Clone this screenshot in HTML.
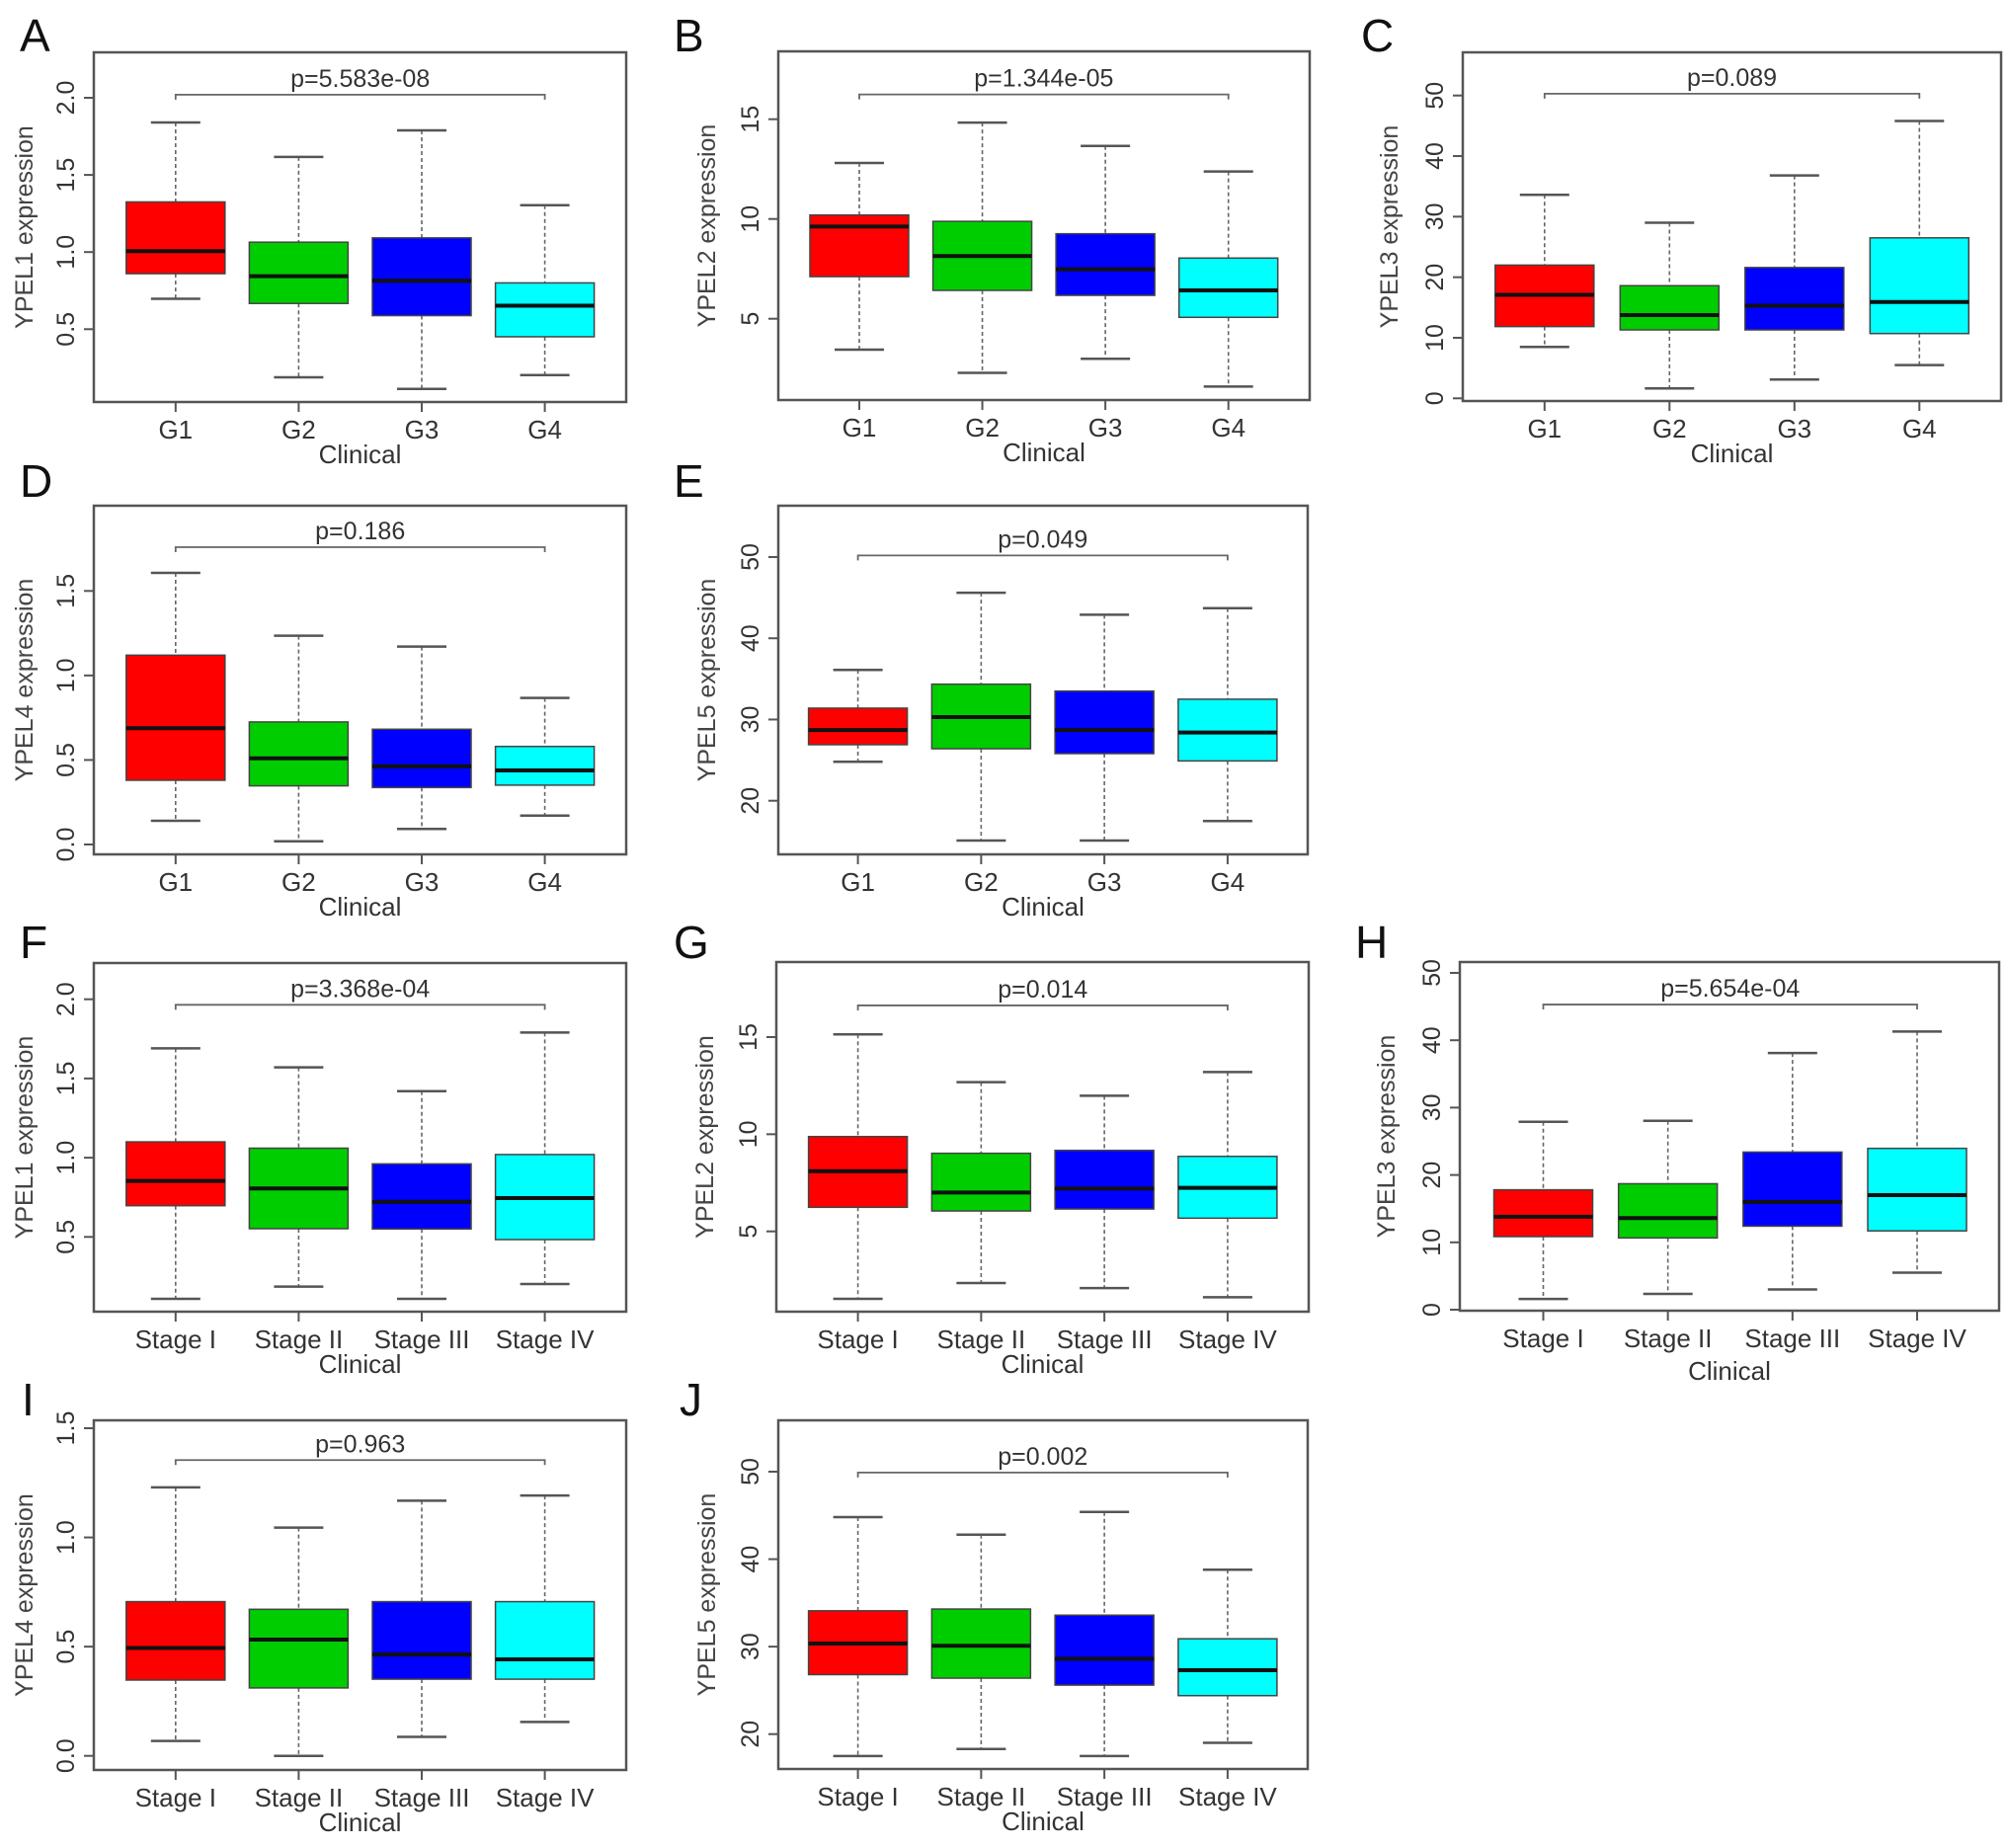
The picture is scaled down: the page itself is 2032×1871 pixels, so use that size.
<!DOCTYPE html>
<html><head><meta charset="utf-8"><style>
html,body{margin:0;padding:0;background:#fff;}
svg{display:block;font-family:"Liberation Sans",Arial,sans-serif;}
</style></head><body>
<svg id="fig" width="2032" height="1871" viewBox="0 0 2032 1871" xmlns="http://www.w3.org/2000/svg"></svg>
<script>
const catsGrade = ['G1','G2','G3','G4'];
const catsStage = ['Stage I','Stage II','Stage III','Stage IV'];
const boxColors = ['#ff0000','#00cd00','#0000ff','#00ffff'];

// Panel A YPEL1 by grade
const aHi=[1.84,1.617,1.789,1.304], aQ3=[1.325,1.064,1.092,0.80], aMed=[1.006,0.844,0.814,0.652], aQ1=[0.86,0.667,0.588,0.451], aLo=[0.697,0.188,0.113,0.203];
const aTicks=[0.5,1.0,1.5,2.0];
// Panel B YPEL2 by grade
const bHi=[12.81,14.83,13.66,12.38], bQ3=[10.2,9.88,9.26,8.04], bMed=[9.62,8.14,7.48,6.42], bQ1=[7.11,6.42,6.17,5.07], bLo=[3.45,2.29,2.99,1.60];
const bTicks=[5,10,15];
// Panel C YPEL3 by grade
const cHi=[33.6,29.0,36.8,45.8], cQ3=[22.0,18.6,21.6,26.5], cMed=[17.1,13.75,15.3,15.9], cQ1=[11.85,11.3,11.3,10.7], cLo=[8.48,1.63,3.1,5.5];
const cTicks=[0,10,20,30,40,50];
// Panel D YPEL4 by grade
const dHi=[1.607,1.235,1.171,0.867], dQ3=[1.12,0.725,0.682,0.58], dMed=[0.688,0.51,0.462,0.438], dQ1=[0.38,0.347,0.337,0.351], dLo=[0.14,0.019,0.092,0.171];
const dTicks=[0.0,0.5,1.0,1.5];
// Panel E YPEL5 by grade
const eHi=[36.1,45.6,42.9,43.7], eQ3=[31.4,34.35,33.5,32.5], eMed=[28.7,30.3,28.7,28.4], eQ1=[26.9,26.4,25.8,24.9], eLo=[24.8,15.1,15.1,17.5];
const eTicks=[20,30,40,50];
// Panel F YPEL1 by stage
const fHi=[1.69,1.57,1.42,1.79], fQ3=[1.10,1.06,0.961,1.02], fMed=[0.853,0.806,0.722,0.745], fQ1=[0.697,0.552,0.55,0.483], fLo=[0.109,0.186,0.109,0.203];
const fTicks=[0.5,1.0,1.5,2.0];
// Panel G YPEL2 by stage
const gHi=[15.14,12.68,11.98,13.2], gQ3=[9.88,9.02,9.17,8.86], gMed=[8.1,7.0,7.2,7.24], gQ1=[6.24,6.05,6.15,5.68], gLo=[1.53,2.34,2.08,1.61];
const gTicks=[5,10,15];
// Panel H YPEL3 by stage
const hHi=[27.9,28.05,38.1,41.3], hQ3=[17.8,18.7,23.4,23.95], hMed=[13.8,13.6,16.0,17.0], hQ1=[10.85,10.65,12.4,11.7], hLo=[1.6,2.35,3.0,5.5];
const hTicks=[0,10,20,30,40,50];
// Panel I YPEL4 by stage
const iHi=[1.229,1.045,1.168,1.192], iQ3=[0.706,0.671,0.706,0.706], iMed=[0.494,0.532,0.464,0.442], iQ1=[0.347,0.311,0.351,0.351], iLo=[0.068,0.0,0.087,0.155];
const iTicks=[0.0,0.5,1.0,1.5];
// Panel J YPEL5 by stage
const jHi=[44.8,42.8,45.4,38.8], jQ3=[34.1,34.3,33.6,30.9], jMed=[30.35,30.1,28.6,27.3], jQ1=[26.8,26.4,25.6,24.4], jLo=[17.5,18.3,17.5,19.0];
const jTicks=[20,30,40,50];

const pLabels=['p=5.583e-08','p=1.344e-05','p=0.089','p=0.186','p=0.049','p=3.368e-04','p=0.014','p=5.654e-04','p=0.963','p=0.002'];
const bracketVals=[2.02,16.24,50.3,1.759,50.2,1.965,16.63,45.3,1.354,49.9];

const NS='http://www.w3.org/2000/svg';
const svg=document.getElementById('fig');
function mk(tag,attrs,parent,text){const e=document.createElementNS(NS,tag);for(const k in attrs)e.setAttribute(k,attrs[k]);if(text!==undefined)e.textContent=text;(parent||svg).appendChild(e);return e;}

const panels=[
 {id:'a',L:'A',lx:20,ly:52,gene:'YPEL1',cats:catsGrade,hi:aHi,q3:aQ3,med:aMed,q1:aQ1,lo:aLo,ticks:aTicks,fmt:1,box:[95,53,634,407],v1:2.0,py1:99,v2:0.5,py2:333.3,x0:177.8,x3:551.6,tOff:62},
 {id:'b',L:'B',lx:682,ly:52,gene:'YPEL2',cats:catsGrade,hi:bHi,q3:bQ3,med:bMed,q1:bQ1,lo:bLo,ticks:bTicks,fmt:0,box:[788,52,1326,405],v1:15,py1:120.7,v2:5,py2:322.7,x0:870,x3:1243.7,tOff:64},
 {id:'c',L:'C',lx:1378,ly:52,gene:'YPEL3',cats:catsGrade,hi:cHi,q3:cQ3,med:cMed,q1:cQ1,lo:cLo,ticks:cTicks,fmt:0,box:[1481,53,2026,406],v1:50,py1:96.7,v2:0,py2:403.3,x0:1563.8,x3:1943.3,tOff:66},
 {id:'d',L:'D',lx:20,ly:503,gene:'YPEL4',cats:catsGrade,hi:dHi,q3:dQ3,med:dMed,q1:dQ1,lo:dLo,ticks:dTicks,fmt:1,box:[95,512,634,865],v1:1.5,py1:598.3,v2:0,py2:855,x0:177.8,x3:551.6,tOff:62},
 {id:'e',L:'E',lx:682,ly:503,gene:'YPEL5',cats:catsGrade,hi:eHi,q3:eQ3,med:eMed,q1:eQ1,lo:eLo,ticks:eTicks,fmt:0,box:[788,512,1324,865],v1:50,py1:564,v2:20,py2:810.7,x0:868.6,x3:1242.9,tOff:64},
 {id:'f',L:'F',lx:20,ly:970,gene:'YPEL1',cats:catsStage,hi:fHi,q3:fQ3,med:fMed,q1:fQ1,lo:fLo,ticks:fTicks,fmt:1,box:[95,975,634,1328],v1:2.0,py1:1011.7,v2:0.5,py2:1252.3,x0:177.8,x3:551.6,tOff:62},
 {id:'g',L:'G',lx:682,ly:970,gene:'YPEL2',cats:catsStage,hi:gHi,q3:gQ3,med:gMed,q1:gQ1,lo:gLo,ticks:gTicks,fmt:0,box:[786,974,1325,1328],v1:15,py1:1050,v2:5,py2:1246.7,x0:868.6,x3:1242.9,tOff:64},
 {id:'h',L:'H',lx:1372,ly:970,gene:'YPEL3',cats:catsStage,hi:hHi,q3:hQ3,med:hMed,q1:hQ1,lo:hLo,ticks:hTicks,fmt:0,box:[1478,974,2024,1327],v1:50,py1:985,v2:0,py2:1326,x0:1562.5,x3:1941,tOff:66,cOff:70},
 {id:'i',L:'I',lx:22,ly:1433,gene:'YPEL4',cats:catsStage,hi:iHi,q3:iQ3,med:iMed,q1:iQ1,lo:iLo,ticks:iTicks,fmt:1,box:[95,1438,634,1792],v1:1.5,py1:1446,v2:0,py2:1777.7,x0:177.8,x3:551.6,tOff:62},
 {id:'j',L:'J',lx:688,ly:1433,gene:'YPEL5',cats:catsStage,hi:jHi,q3:jQ3,med:jMed,q1:jQ1,lo:jLo,ticks:jTicks,fmt:0,box:[788,1438,1324,1791],v1:50,py1:1490,v2:20,py2:1755.7,x0:868.6,x3:1242.9,tOff:64}
];

panels.forEach((p,pi)=>{
 const g=mk('g',{});
 
 
 const y=v=>p.py1+(v-p.v1)*(p.py2-p.py1)/(p.v2-p.v1);
 const x=i=>p.x0+i*(p.x3-p.x0)/3;
 const [L,T,R,B]=p.box;
 const letter=mk('text',{x:p.lx,y:p.ly,'font-size':46,fill:'#111'},g,p.L);
 
 
 for(let i=0;i<4;i++){
  const cx=x(i);
  const bg=mk('g',{},g);
  
  
  mk('line',{x1:cx,x2:cx,y1:y(p.hi[i]),y2:y(p.q3[i]),stroke:'#666','stroke-width':1.6,'stroke-dasharray':'4 3'},bg);
  mk('line',{x1:cx,x2:cx,y1:y(p.q1[i]),y2:y(p.lo[i]),stroke:'#666','stroke-width':1.6,'stroke-dasharray':'4 3'},bg);
  mk('line',{x1:cx-25,x2:cx+25,y1:y(p.hi[i]),y2:y(p.hi[i]),stroke:'#555','stroke-width':2.5},bg);
  mk('line',{x1:cx-25,x2:cx+25,y1:y(p.lo[i]),y2:y(p.lo[i]),stroke:'#555','stroke-width':2.5},bg);
  mk('rect',{x:cx-50,y:y(p.q3[i]),width:100,height:y(p.q1[i])-y(p.q3[i]),fill:boxColors[i],stroke:'#444','stroke-width':1.5},bg);
  mk('line',{x1:cx-50,x2:cx+50,y1:y(p.med[i]),y2:y(p.med[i]),stroke:'#111','stroke-width':4},bg);
 }
 const fr=mk('rect',{x:L,y:T,width:R-L,height:B-T,fill:'none',stroke:'#555','stroke-width':2.5},g);
 
 
 p.ticks.forEach(t=>{
  const ty=y(t);
  mk('line',{x1:L-10,x2:L,y1:ty,y2:ty,stroke:'#555','stroke-width':2},g);
  const tl=mk('text',{x:L-20,y:ty,'font-size':25,fill:'#333','text-anchor':'middle',transform:`rotate(-90 ${L-20} ${ty})`},g,t.toFixed(p.fmt));
  
  
 });
 const yc=(T+B)/2, yx=L-p.tOff;
 const yt=mk('text',{x:yx,y:yc,'font-size':25,fill:'#444','text-anchor':'middle',transform:`rotate(-90 ${yx} ${yc})`},g,p.gene+' expression');
 
 
 p.cats.forEach((c,i)=>{
  mk('line',{x1:x(i),x2:x(i),y1:B,y2:B+10,stroke:'#555','stroke-width':2},g);
  const xl=mk('text',{x:x(i),y:B+37,'font-size':26,fill:'#333','text-anchor':'middle'},g,c);
  
  
 });
 const xt=mk('text',{x:(L+R)/2,y:B+(p.cOff||62),'font-size':26,fill:'#333','text-anchor':'middle'},g,'Clinical');
 
 
 const by=y(bracketVals[pi]);
 const br=mk('path',{d:`M${x(0)} ${by+5} V${by} H${x(3)} V${by+5}`,fill:'none',stroke:'#666','stroke-width':1.8},g);
 
 
 const pt=mk('text',{x:(x(0)+x(3))/2,y:by-8,'font-size':25,fill:'#333','text-anchor':'middle'},g,pLabels[pi]);
 
 
});
</script>
</body></html>
